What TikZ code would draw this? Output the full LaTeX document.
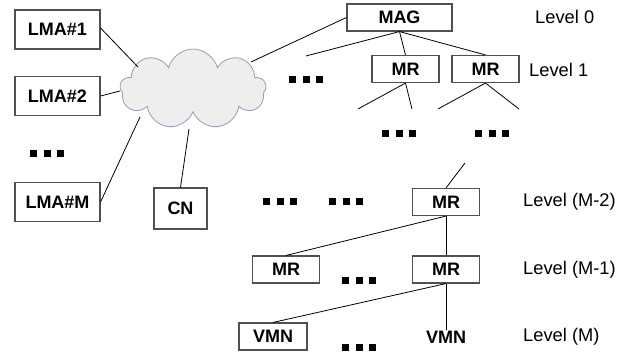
\documentclass[tikz,border=0pt]{standalone}
\usepackage{fontspec}
\setmainfont{Liberation Sans}
\usetikzlibrary{shapes.symbols}
\definecolor{boxline}{HTML}{505050}
\definecolor{cloudline}{HTML}{8FA0B4}
\definecolor{cloudfill}{HTML}{EEEEEE}
\newcommand{\threedots}{\rule{7pt}{7pt}\hspace{6.5pt}\rule{7pt}{7pt}\hspace{6.5pt}\rule{7pt}{7pt}}
\begin{document}
\begin{tikzpicture}[x=1pt,y=-1pt,
  every node/.style={font=\fontsize{18.3}{21}\selectfont},
  box/.style={draw=boxline, line width=1.1pt, fill=white, inner sep=0pt, font=\fontsize{18}{21}\selectfont\bfseries},
  lma/.style={box, minimum width=85pt, minimum height=39pt},
  mr/.style={box, minimum width=67pt, minimum height=27pt},
  dots/.style={inner sep=0pt, font=\fontsize{7}{7}\selectfont},
  lvl/.style={anchor=west, inner sep=0pt},
  conn/.style={line width=0.8pt, black}]
\useasboundingbox (0,0) rectangle (640,356);

% cloud
\node[cloud, cloud puffs=9, aspect=1.8, minimum width=146pt, minimum height=80pt, inner sep=0pt,
      fill=cloudfill, draw=cloudline, line width=0.8pt] (cloud) at (193,89) {};

% left boxes
\node[lma] (lma1) at (57.5,29.5) {LMA\#1};
\node[lma] (lma2) at (57.5,96) {LMA\#2};
\node[lma] (lmam) at (57.5,202) {LMA\#M};
\node[box, minimum width=53pt, minimum height=41pt] (cn) at (180.5,208.5) {CN};

% tree
\node[box, minimum width=105pt, minimum height=27pt] (mag) at (399.5,17.5) {MAG};
\node[mr] (mr1a) at (405.5,69) {MR};
\node[mr] (mr1b) at (485.5,69) {MR};
\node[mr] (mrm2) at (446,202) {MR};
\node[mr] (mrm1a) at (286,269.5) {MR};
\node[mr] (mrm1b) at (446,269.5) {MR};
\node[box, minimum width=68pt, minimum height=27pt] (vmn1) at (273,336.5) {VMN};
\node[inner sep=1pt, font=\fontsize{18}{21}\selectfont\bfseries] (vmn2) at (446,337) {VMN};

% dots
\node[dots] (d1) at (47,153) {\threedots};
\node[dots] (d2) at (306,79) {\threedots};
\node[dots] (d3) at (399,133) {\threedots};
\node[dots] (d4) at (492,133) {\threedots};
\node[dots] (d5) at (280,201) {\threedots};
\node[dots] (d6) at (346,201) {\threedots};
\node[dots] (d7) at (359,280) {\threedots};
\node[dots] (d8) at (359,347) {\threedots};

% level labels
\node[lvl] (l0) at (535,17) {Level 0};
\node[lvl] (l1) at (529,70) {Level 1};
\node[lvl] (lm2) at (523,202) {Level (M-2)};
\node[lvl] (lm1) at (523,270) {Level (M-1)};
\node[lvl] (lm) at (523,337) {Level (M)};

% cloud attachment points
\coordinate (c1) at (138,67);
\coordinate (c2) at (120,91);
\coordinate (c3) at (140,117);
\coordinate (c4) at (189,129);
\coordinate (c5) at (251,62);

% free ends
\coordinate (f1) at (306,56);
\coordinate (f2) at (358,109);
\coordinate (f3) at (412,109);
\coordinate (f4) at (438,109);
\coordinate (f5) at (519,109);
\coordinate (f6) at (465,163);

% connectors
\draw[conn] (lma1.east |- 0,28) -- (c1);
\draw[conn] (lma2.east) -- (c2);
\draw[conn] (lmam.east) -- (c3);
\draw[conn] (cn.north) -- (c4);
\draw[conn] (c5) -- (mag.west);
\draw[conn] (mag.south) -- (f1);
\draw[conn] (mag.south) -- (mr1a.north);
\draw[conn] (mag.south) -- (mr1b.north);
\draw[conn] (mr1a.south) -- (f2);
\draw[conn] (mr1a.south) -- (f3);
\draw[conn] (mr1b.south) -- (f4);
\draw[conn] (mr1b.south) -- (f5);
\draw[conn] (f6) -- (mrm2.north);
\draw[conn] (mrm2.south) -- (mrm1a.north);
\draw[conn] (mrm2.south) -- (mrm1b.north);
\draw[conn] (mrm1b.south) -- (vmn1.north);
\draw[conn] (mrm1b.south) -- (vmn2.north);
\end{tikzpicture}
\end{document}
